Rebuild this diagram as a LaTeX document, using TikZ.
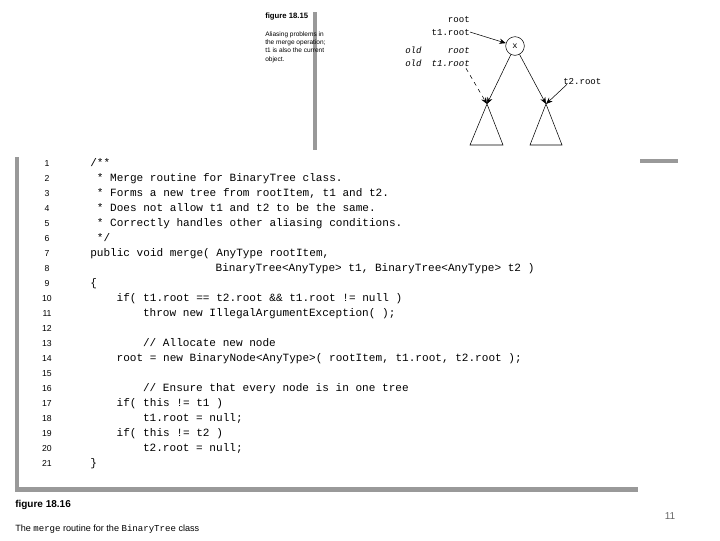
\documentclass[tikz,border=0pt]{standalone}
\usepackage{fontspec}
\setmainfont{Liberation Sans}
\newfontfamily\cmono{Liberation Mono}
\usetikzlibrary{arrows.meta}
\begin{document}
\begin{tikzpicture}[x=0.75pt,y=-0.75pt,
  bar/.style={fill=black!40,draw=none},
  code/.style={anchor=base west,inner sep=0pt,font=\cmono\fontsize{8.3pt}{9pt}\selectfont},
  lnum/.style={anchor=base,inner sep=0pt,font=\fontsize{6.5pt}{7pt}\selectfont},
  tl/.style={inner sep=0pt,font=\cmono\fontsize{6.8pt}{8pt}\selectfont},
  tli/.style={tl,font=\cmono\itshape\fontsize{6.8pt}{8pt}\selectfont},
  arr/.style={-{Stealth[length=5pt,width=4pt]},thin}]
\useasboundingbox (0,0) rectangle (720,540);
% bars
\fill[bar] (313,12) rectangle (317,150);
\fill[bar] (15,157) rectangle (19,492);
\fill[bar] (15,487) rectangle (638,492);
\fill[bar] (640,159) rectangle (678,163);
% fig 18.15 caption
\node[anchor=base west,inner sep=0pt,font=\bfseries\fontsize{5.8pt}{7pt}\selectfont] (f15) at (265,18) {figure 18.15};
\node[anchor=north west,inner sep=0pt,align=left,font=\fontsize{4.9pt}{6.3pt}\selectfont] (c15) at (265,31) {Aliasing problems in\\the merge operation;\\t1 is also the current\\object.};
% tree
\node[circle,draw,thin,inner sep=0pt,minimum size=14pt,font=\cmono\fontsize{6.5pt}{7pt}\selectfont] (x) at (515,46) {x};
\node[tl,anchor=base east] (r) at (470,22) {root};
\node[tl,anchor=base east] (t1) at (470,35) {t1.root};
\node[tli,anchor=base east] (or) at (470,53) {root};
\node[tli,anchor=base east] (ot) at (470,66) {t1.root};
\node[tli,anchor=base west] (o1) at (405,53) {old};
\node[tli,anchor=base west] (o2) at (405,66) {old};
\node[tl,anchor=base west] (t2) at (563,84) {t2.root};
\coordinate (la) at (487,104);
\coordinate (ra) at (546,104);
\draw[thin] (la) -- (470,145) -- (503,145) -- cycle;
\draw[thin] (ra) -- (530,145) -- (562,145) -- cycle;
\draw[arr] (t1.east) -- (x);
\draw[arr] (x) -- (la);
\draw[arr] (x) -- (ra);
\draw[arr,dashed] (ot.south east) ++(-4,2) -- (la);
\draw[arr] (t2.south west) ++(4,0) -- (ra);
% code
\newcommand\cw{6.6}
\newcommand\cln[3]{\node[lnum] (n#1) at (47,{151+15*#1}) {#1};
  \node[code] (l#1) at ({90+\cw*#2},{151+15*#1}) {#3};}
\cln{1}{0}{/**}
\cln{2}{1}{* Merge routine for BinaryTree class.}
\cln{3}{1}{* Forms a new tree from rootItem, t1 and t2.}
\cln{4}{1}{* Does not allow t1 and t2 to be the same.}
\cln{5}{1}{* Correctly handles other aliasing conditions.}
\cln{6}{1}{*/}
\cln{7}{0}{public void merge( AnyType rootItem,}
\cln{8}{19}{BinaryTree<AnyType> t1, BinaryTree<AnyType> t2 )}
\cln{9}{0}{\{}
\cln{10}{4}{if( t1.root == t2.root \&\& t1.root != null )}
\cln{11}{8}{throw new IllegalArgumentException( );}
\cln{12}{0}{}
\cln{13}{8}{// Allocate new node}
\cln{14}{4}{root = new BinaryNode<AnyType>( rootItem, t1.root, t2.root );}
\cln{15}{0}{}
\cln{16}{8}{// Ensure that every node is in one tree}
\cln{17}{4}{if( this != t1 )}
\cln{18}{8}{t1.root = null;}
\cln{19}{4}{if( this != t2 )}
\cln{20}{8}{t2.root = null;}
\cln{21}{0}{\}}
% bottom caption
\node[anchor=base west,inner sep=0pt,font=\bfseries\fontsize{7.5pt}{8pt}\selectfont] (f16) at (15,507) {figure 18.16};
\node[anchor=base west,inner sep=0pt,font=\fontsize{6.8pt}{8pt}\selectfont] (c16) at (15,531) {The {\cmono merge} routine for the {\cmono BinaryTree} class};
\node[anchor=base,inner sep=0pt,text=black!60,font=\fontsize{7.5pt}{8pt}\selectfont] (pg) at (670,519) {11};
\end{tikzpicture}
\end{document}
